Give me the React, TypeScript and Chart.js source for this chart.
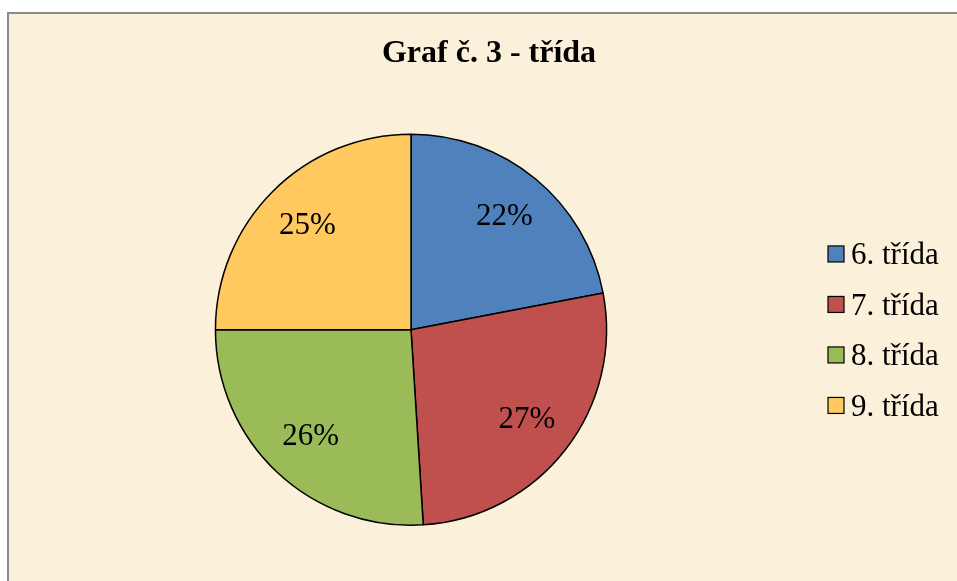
import React, { useEffect, useRef } from "react";
import { Chart, registerables } from "chart.js";

Chart.register(...registerables);

const TITLE = "Graf č. 3 - třída";
const categories = ["6. třída", "7. třída", "8. třída", "9. třída"];
const values = [22, 27, 26, 25];
const colors = ["#4F81BD", "#C0504D", "#9BBB59", "#FFC960"];

const SERIF = '"Liberation Serif", "Times New Roman", serif';

const pctLabels = {
  id: "pctLabels",
  afterDatasetsDraw(chart: any) {
    const ctx = chart.ctx;
    const meta = chart.getDatasetMeta(0);
    const data = chart.data.datasets[0].data as number[];
    const total = data.reduce((a, b) => a + b, 0);
    ctx.save();
    ctx.font = `31px ${SERIF}`;
    ctx.fillStyle = "#000";
    ctx.textAlign = "center";
    ctx.textBaseline = "middle";
    meta.data.forEach((arc: any, i: number) => {
      const p = arc.getProps(["x", "y", "startAngle", "endAngle", "outerRadius"], true);
      const mid = (p.startAngle + p.endAngle) / 2;
      const r = p.outerRadius * 0.75;
      const x = p.x + Math.cos(mid) * r;
      const y = p.y + Math.sin(mid) * r;
      ctx.fillText(Math.round((data[i] / total) * 100) + "%", x, y);
    });
    ctx.restore();
  },
};

const sideLegend = {
  id: "sideLegend",
  afterDraw(chart: any) {
    const ctx = chart.ctx;
    const area = chart.chartArea;
    const labels = chart.data.labels as string[];
    const bg = chart.data.datasets[0].backgroundColor as string[];
    const spacing = 50.5;
    const cy = (area.top + area.bottom) / 2 + 2;
    const startY = cy - (spacing * (labels.length - 1)) / 2;
    const cx = (area.left + area.right) / 2;
    const boxX = cx + 417;
    const box = 16;
    ctx.save();
    ctx.font = `31px ${SERIF}`;
    ctx.textAlign = "left";
    ctx.textBaseline = "middle";
    labels.forEach((lab, i) => {
      const y = startY + i * spacing;
      ctx.fillStyle = bg[i];
      ctx.fillRect(boxX, y - box / 2 - 2, box, box);
      ctx.strokeStyle = "#000";
      ctx.lineWidth = 1.2;
      ctx.strokeRect(boxX, y - box / 2 - 2, box, box);
      ctx.fillStyle = "#000";
      ctx.fillText(lab, boxX + box + 7, y);
    });
    ctx.restore();
  },
};

export default function App() {
  const ref = useRef<HTMLCanvasElement>(null);
  useEffect(() => {
    if (!ref.current) return;
    const chart = new Chart(ref.current, {
      type: "pie",
      data: {
        labels: categories,
        datasets: [
          {
            data: values,
            backgroundColor: colors,
            borderColor: "#000",
            borderWidth: 1.5,
          },
        ],
      },
      options: {
        responsive: false,
        animation: false,
        layout: { padding: { left: 0, right: 0, top: 0, bottom: 55 } },
        plugins: {
          title: {
            display: true,
            text: TITLE,
            color: "#000",
            font: { family: SERIF, size: 32, weight: "bold", lineHeight: 1.2 },
            padding: { top: 21, bottom: 60 },
          },
          legend: {
            display: true,
            position: "right",
            labels: { generateLabels: () => [], padding: 146 },
          },
          tooltip: { enabled: false },
        },
      },
      plugins: [pctLabels, sideLegend],
    });
    return () => chart.destroy();
  }, []);
  return (
    <div
      style={{
        position: "fixed",
        left: 7,
        top: 12,
        width: 990,
        height: 600,
        background: "#FBF0D9",
        borderLeft: "2px solid #8a8a8a",
        borderTop: "2px solid #8a8a8a",
      }}
    >
      <canvas ref={ref} width={960} height={567} style={{ display: "block", width: 960, height: 567 }} />
    </div>
  );
}
